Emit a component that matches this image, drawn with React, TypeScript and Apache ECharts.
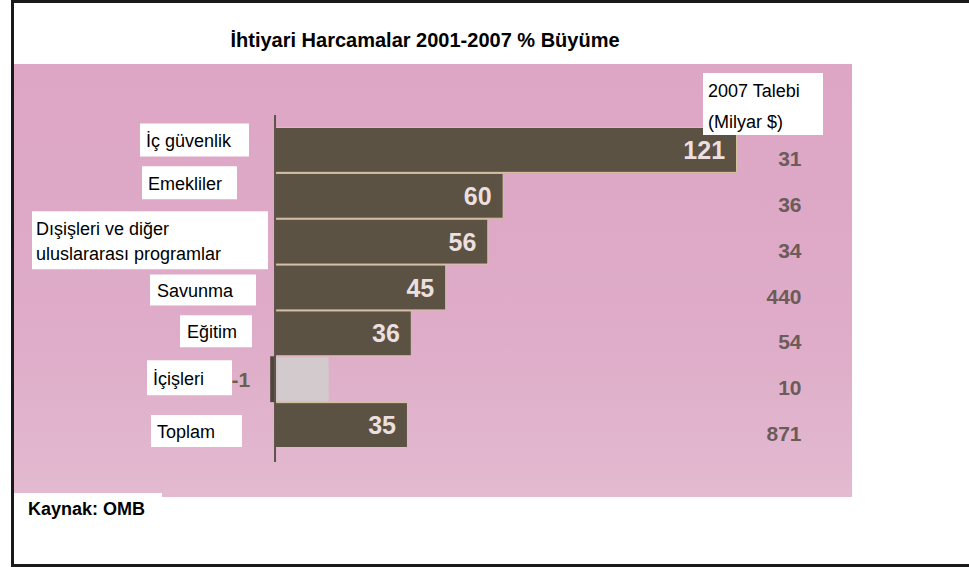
import React, { useEffect, useRef } from 'react';
import * as echarts from 'echarts';

const titleText = 'İhtiyari Harcamalar 2001-2007 % Büyüme';
const sourceText = 'Kaynak: OMB';
const requestHeader = '2007 Talebi\n(Milyar $)';
const categories = [
  'İç güvenlik',
  'Emekliler',
  'Dışişleri ve diğer\nuluslararası programlar',
  'Savunma',
  'Eğitim',
  'İçişleri',
  'Toplam',
];
const growth = [121, 60, 56, 45, 36, -1, 35];
const request2007 = [31, 36, 34, 440, 54, 10, 871];

// label box styling: left edge, width, height, vertical offset from bar centre, text inset
const labelBoxes = [
  { left: 140, width: 109, height: 33, dy: -10, inset: 6 },
  { left: 142, width: 95, height: 33, dy: -13, inset: 6 },
  { left: 32, width: 236, height: 58, dy: -1.5, inset: 4 },
  { left: 150, width: 106, height: 31, dy: 2.5, inset: 7 },
  { left: 180, width: 72, height: 32, dy: -2, inset: 7 },
  { left: 147, width: 85, height: 35, dy: -1.5, inset: 6 },
  { left: 151, width: 91, height: 32, dy: 6, inset: 6 },
];

const SANS = '"Liberation Sans", Arial, sans-serif';

export default function App() {
  const ref = useRef<HTMLDivElement>(null);
  useEffect(() => {
    if (!ref.current) return;
    const chart = echarts.init(ref.current, null, { renderer: 'svg' });
    const option: any = {
      animation: false,
      backgroundColor: '#ffffff',
      title: {
        text: titleText,
        left: 425,
        top: 30,
        padding: 0,
        textAlign: 'center',
        textStyle: { fontFamily: SANS, fontSize: 20, fontWeight: 'bold', color: '#000', lineHeight: 20 },
      },
      grid: { left: 197.5, right: 197.5, top: 127, bottom: 119, containLabel: false },
      xAxis: {
        type: 'value',
        min: -20,
        max: 130,
        show: false,
      },
      yAxis: [
        {
          type: 'category',
          data: categories,
          inverse: true,
          axisLine: { show: false },
          axisTick: { show: false },
          axisLabel: { show: false },
        },
        {
          type: 'category',
          data: categories,
          inverse: true,
          position: 'right',
          axisLine: { show: false },
          axisTick: { show: false },
          axisLabel: {
            formatter: (_v: string, i: number) => String(request2007[i]),
            align: 'right',
            verticalAlign: 'top',
            lineHeight: 17,
            margin: 30,
            fontFamily: SANS,
            fontWeight: 'bold',
            fontSize: 21,
            color: '#6c5b58',
          },
        },
      ],
      series: [
        {
          type: 'bar',
          yAxisIndex: 0,
          barCategoryGap: '0%',
          data: growth.map((v) =>
            v < 0
              ? {
                  value: v,
                  itemStyle: { color: '#4e463a', borderWidth: 0 },
                  label: { position: 'left', distance: 20, color: '#6a604e', fontSize: 21 },
                }
              : v
          ),
          itemStyle: { color: '#5b5244', borderColor: '#d6c6a2', borderWidth: 1 },
          label: {
            show: true,
            position: 'insideRight',
            distance: 12,
            color: '#ecdfdf',
            fontFamily: SANS,
            fontWeight: 'bold',
            fontSize: 25,
          },
          z: 5,
        },
      ],
    };
    chart.setOption(option);

    const x0 = chart.convertToPixel({ xAxisIndex: 0 }, 0) as number;
    const yTop = chart.convertToPixel({ yAxisIndex: 0 }, 0) as number;
    const yBot = chart.convertToPixel({ yAxisIndex: 0 }, categories.length - 1) as number;
    const band = (yBot - yTop) / (categories.length - 1);
    const shadeIdx = growth.findIndex((v) => v < 0);
    const yShade = chart.convertToPixel({ yAxisIndex: 0 }, shadeIdx) as number;
    const xShade = chart.convertToPixel({ xAxisIndex: 0 }, 14) as number;

    const graphics: any[] = [
      {
        type: 'rect',
        z: -100,
        shape: { x: 14, y: 64, width: 838, height: 433 },
        style: {
          fill: new echarts.graphic.LinearGradient(0, 0, 0, 1, [
            { offset: 0, color: '#dda6c5' },
            { offset: 0.6, color: '#deabc8' },
            { offset: 1, color: '#e3bad0' },
          ]),
        },
      },
      {
        type: 'rect',
        z: -99,
        shape: { x: x0 + 1, y: yShade - band / 2 + 1, width: xShade - x0, height: band - 2 },
        style: { fill: '#d2cacd' },
      },
      {
        type: 'line',
        z: 50,
        shape: { x1: x0 + 1, y1: yTop - band / 2 - 12, x2: x0 + 1, y2: yBot + band / 2 + 14 },
        style: { stroke: '#5d5446', lineWidth: 2 },
      },
      {
        type: 'rect',
        z: 60,
        shape: { x: 12.5, y: 1.5, width: 970, height: 564 },
        style: { fill: 'none', stroke: '#1a1a1a', lineWidth: 3 },
      },
      {
        type: 'rect',
        z: 60,
        shape: { x: 14, y: 493, width: 148, height: 30 },
        style: { fill: '#ffffff' },
      },
      {
        type: 'text',
        z: 61,
        x: 28,
        y: 509,
        style: {
          text: sourceText,
          fontFamily: SANS,
          fontWeight: 'bold',
          fontSize: 18,
          fill: '#000',
          textAlign: 'left',
          textVerticalAlign: 'middle',
        },
      },
      {
        type: 'rect',
        z: 60,
        shape: { x: 703, y: 73, width: 120, height: 62 },
        style: { fill: '#ffffff' },
      },
      {
        type: 'text',
        z: 61,
        x: 708,
        y: 106,
        style: {
          text: requestHeader,
          fontFamily: SANS,
          fontSize: 18,
          lineHeight: 31,
          fill: '#000',
          textAlign: 'left',
          textVerticalAlign: 'middle',
        },
      },
    ];

    categories.forEach((cat, i) => {
      const yc = (chart.convertToPixel({ yAxisIndex: 0 }, i) as number) + labelBoxes[i].dy;
      const b = labelBoxes[i];
      graphics.push({
        type: 'rect',
        z: 60,
        shape: { x: b.left, y: yc - b.height / 2, width: b.width, height: b.height },
        style: { fill: '#ffffff' },
      });
      graphics.push({
        type: 'text',
        z: 61,
        x: b.left + b.inset,
        y: yc + 1,
        style: {
          text: cat,
          fontFamily: SANS,
          fontSize: 18,
          lineHeight: 25,
          fill: '#000',
          textAlign: 'left',
          textVerticalAlign: 'middle',
        },
      });
    });

    chart.setOption({ graphic: graphics });
    return () => chart.dispose();
  }, []);

  return (
    <div
      ref={ref}
      style={{ position: 'fixed', left: 0, top: 0, width: 969, height: 567 }}
    />
  );
}
